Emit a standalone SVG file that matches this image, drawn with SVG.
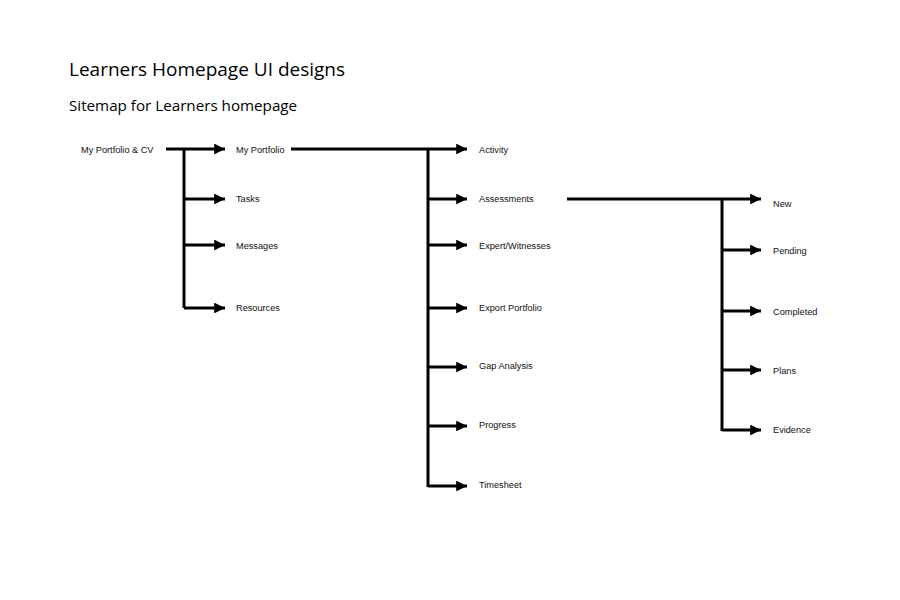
<svg xmlns="http://www.w3.org/2000/svg" width="900" height="600" viewBox="0 0 900 600">
<style>
.t{font-family:"Open Sans","Liberation Sans",sans-serif;fill:#000}
.l{font-family:"Liberation Sans",Arial,sans-serif;font-size:9.2px;fill:#111}
.c{stroke:#000;stroke-width:3;fill:none}
</style>
<defs>
<marker id="a" viewBox="0 0 10 10" refX="10" refY="5" markerWidth="4.4" markerHeight="3.6" orient="auto" markerUnits="strokeWidth">
<path d="M0,0 L10,5 L0,10 Z" fill="#000"/>
</marker>
</defs>
<rect width="900" height="600" fill="#fff"/>
<text class="t" x="69" y="76" font-size="19">Learners Homepage UI designs</text>
<text class="t" x="69" y="111" font-size="15.2">Sitemap for Learners homepage</text>
<g id="connectors">
<path class="c" d="M166,149 H225" marker-end="url(#a)"/>
<path class="c" d="M184,149 V308"/>
<path class="c" d="M184,199 H225" marker-end="url(#a)"/>
<path class="c" d="M184,245 H225" marker-end="url(#a)"/>
<path class="c" d="M184,308 H225" marker-end="url(#a)"/>
<path class="c" d="M291,149 H467" marker-end="url(#a)"/>
<path class="c" d="M428,149 V487"/>
<path class="c" d="M428,199 H467" marker-end="url(#a)"/>
<path class="c" d="M428,245 H467" marker-end="url(#a)"/>
<path class="c" d="M428,308 H467" marker-end="url(#a)"/>
<path class="c" d="M428,367 H467" marker-end="url(#a)"/>
<path class="c" d="M428,426 H467" marker-end="url(#a)"/>
<path class="c" d="M428,486 H467" marker-end="url(#a)"/>
<path class="c" d="M567,199 H761" marker-end="url(#a)"/>
<path class="c" d="M722,199 V431"/>
<path class="c" d="M722,250 H761" marker-end="url(#a)"/>
<path class="c" d="M722,311 H761" marker-end="url(#a)"/>
<path class="c" d="M722,370 H761" marker-end="url(#a)"/>
<path class="c" d="M722,430 H761" marker-end="url(#a)"/>
</g>
<g id="n-root"><text class="l" x="81" y="153">My Portfolio &amp; CV</text></g>
<g id="n-portfolio"><text class="l" x="236" y="153">My Portfolio</text></g>
<g id="n-tasks"><text class="l" x="236" y="202">Tasks</text></g>
<g id="n-messages"><text class="l" x="236" y="249">Messages</text></g>
<g id="n-resources"><text class="l" x="236" y="311">Resources</text></g>
<g id="n-activity"><text class="l" x="479" y="153">Activity</text></g>
<g id="n-assessments"><text class="l" x="479" y="202">Assessments</text></g>
<g id="n-expert"><text class="l" x="479" y="249">Expert/Witnesses</text></g>
<g id="n-export"><text class="l" x="479" y="311">Export Portfolio</text></g>
<g id="n-gap"><text class="l" x="479" y="369">Gap Analysis</text></g>
<g id="n-progress"><text class="l" x="479" y="428">Progress</text></g>
<g id="n-timesheet"><text class="l" x="479" y="488">Timesheet</text></g>
<g id="n-new"><text class="l" x="773" y="207">New</text></g>
<g id="n-pending"><text class="l" x="773" y="254">Pending</text></g>
<g id="n-completed"><text class="l" x="773" y="315">Completed</text></g>
<g id="n-plans"><text class="l" x="773" y="374">Plans</text></g>
<g id="n-evidence"><text class="l" x="773" y="433">Evidence</text></g>
</svg>
